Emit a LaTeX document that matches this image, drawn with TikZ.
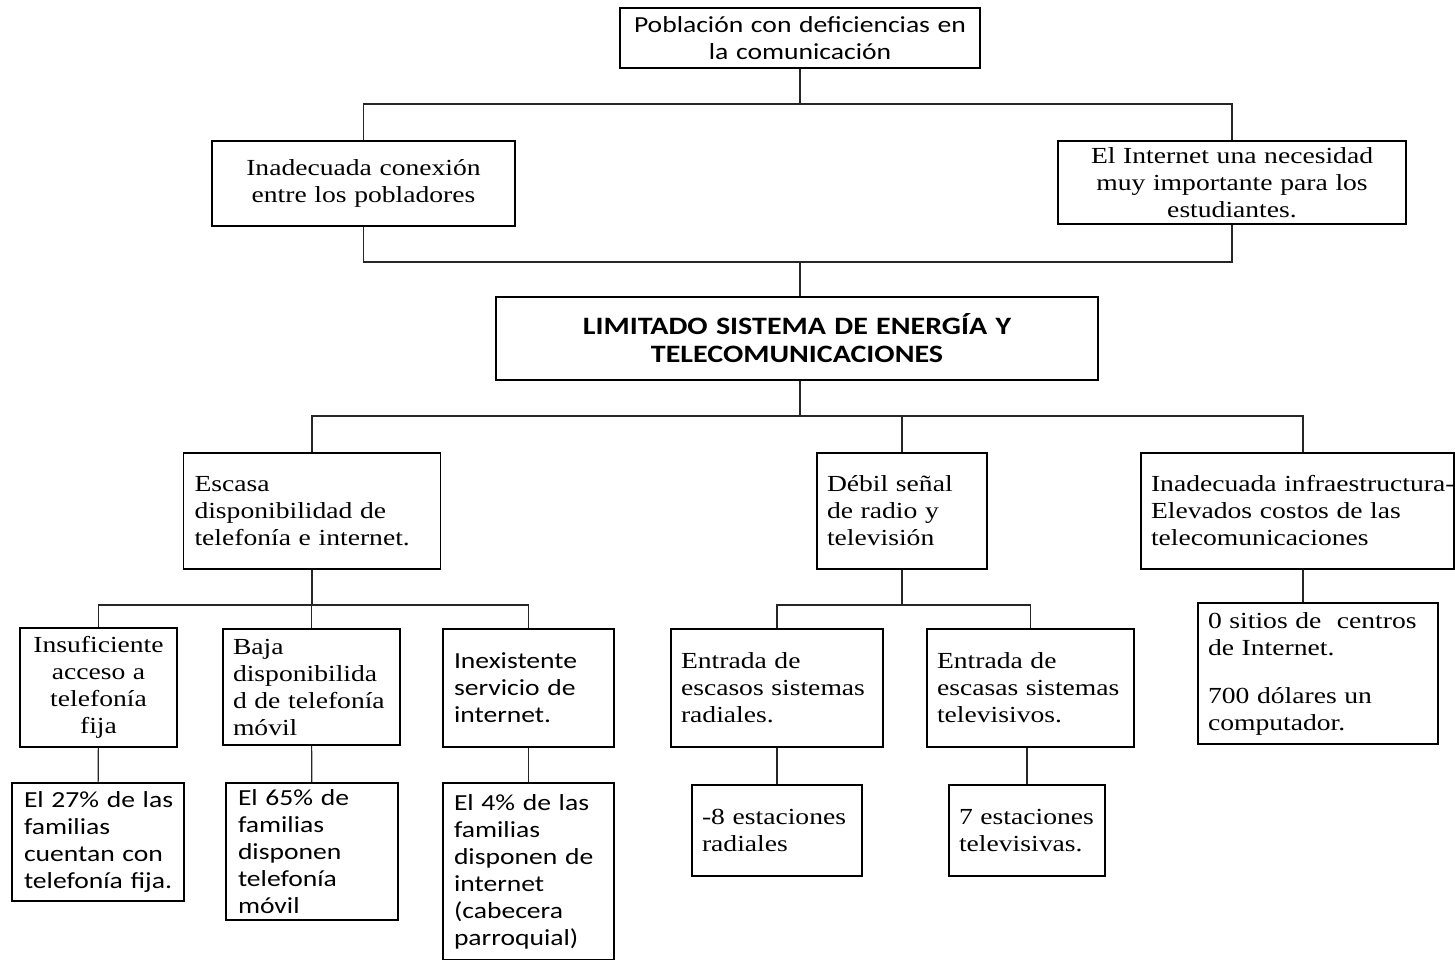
\documentclass[tikz,border=0pt]{standalone}
\usepackage{fontspec}
\setmainfont{Liberation Serif}[FakeStretch=1.2]
\newfontfamily\calibri{Carlito}[FakeStretch=1.2]
\newcommand\tam{\fontsize{23}{27}\selectfont}
\newcommand\tamg{\fontsize{25}{28}\selectfont}

\begin{document}
\begin{tikzpicture}[
x=1pt, y=-1pt,
caja/.style={
draw,
line width=1.6pt,
inner sep=0pt,
font=\tam
},
izq/.style={caja, align=left},
cen/.style={caja, align=center},
enlace/.style={draw, line width=1.1pt, black!85}
]

\useasboundingbox (0,0) rectangle (1455,960);

\node[cen, font=\tam\calibri, minimum width=360pt, minimum height=60pt, text width=340pt] (pob) at (800,38)
{Población con deficiencias en\\la comunicación};

\node[cen, minimum width=303pt, minimum height=85pt, text width=283pt] (con) at (363.5,183.5)
{Inadecuada conexión\\entre los pobladores};

\node[cen, minimum width=348pt, minimum height=83pt, text width=328pt] (net) at (1232,182.5)
{El Internet una necesidad\\muy importante para los\\estudiantes.};

\node[cen, font=\tamg\calibri\bfseries, minimum width=602pt, minimum height=83pt, text width=580pt] (lim) at (797,338.5)
{LIMITADO SISTEMA DE ENERGÍA Y\\TELECOMUNICACIONES};

\node[izq, minimum width=257pt, minimum height=116pt, text width=235pt] (esc) at (312,511)
{Escasa\\\mbox{disponibilidad de}\\\mbox{telefonía e internet.}};

\node[izq, minimum width=170pt, minimum height=116pt, text width=150pt] (deb) at (902,511)
{\mbox{Débil señal}\\\mbox{de radio y}\\televisión};

\node[izq, minimum width=313pt, minimum height=116pt, text width=293pt] (inf) at (1297.5,511)
{\mbox{Inadecuada infraestructura-}\\\mbox{Elevados costos de las}\\telecomunicaciones};

\node[cen, minimum width=157pt, minimum height=119pt, text width=140pt] (ins) at (98.5,687.5)
{Insuficiente\\acceso a\\telefonía\\fija};

\node[izq, minimum width=177pt, minimum height=116pt, text width=157pt] (baj) at (311.5,687)
{Baja\\disponibilida\\\mbox{d de telefonía}\\móvil};

\node[izq, font=\tam\calibri, minimum width=171pt, minimum height=118pt, text width=149pt] (inx) at (528.5,688)
{Inexistente\\\mbox{servicio de}\\internet.};

\node[izq, minimum width=212pt, minimum height=118pt, text width=192pt] (rad) at (777,688)
{\mbox{Entrada de}\\\mbox{escasos sistemas}\\radiales.};

\node[izq, minimum width=207pt, minimum height=118pt, text width=187pt] (tel) at (1030.5,688)
{\mbox{Entrada de}\\\mbox{escasas sistemas}\\televisivos.};

\node[izq, minimum width=240pt, minimum height=141pt, text width=220pt] (sit) at (1318,673.5)
{\mbox{0 sitios de\ \ centros}\\\mbox{de Internet.}\\[21pt]\mbox{700 dólares un}\\computador.};

\node[izq, font=\tam\calibri, minimum width=172pt, minimum height=118pt, text width=148pt] (f27) at (98,842)
{\mbox{El 27\% de las}\\familias\\\mbox{cuentan con}\\\mbox{telefonía fija.}};

\node[izq, font=\tam\calibri, minimum width=172pt, minimum height=137pt, text width=148pt] (f65) at (312,851.5)
{\mbox{El 65\% de}\\familias\\disponen\\telefonía\\móvil};

\node[izq, font=\tam\calibri, minimum width=171pt, minimum height=177pt, text width=149pt] (f4) at (528.5,871.5)
{\mbox{El 4\% de las}\\familias\\\mbox{disponen de}\\internet\\(cabecera\\parroquial)};

\node[izq, minimum width=170pt, minimum height=91pt, text width=150pt] (est8) at (777,830.5)
{\mbox{-8 estaciones}\\radiales};

\node[izq, minimum width=156pt, minimum height=91pt, text width=136pt] (est7) at (1027,830.5)
{\mbox{7 estaciones}\\televisivas.};

\coordinate (j1) at (800,104);
\coordinate (j2) at (800,262);
\coordinate (j3) at (800,416);
\coordinate (j4) at (312,605);
\coordinate (j5) at (902,605);
\coordinate (j6) at (1303,416);

\draw[enlace] (pob) -- (j1);
\draw[enlace] (con) |- (j1) -| (net);
\draw[enlace] (con) |- (j2) -| (net);
\draw[enlace] (j2) -- (j2 |- lim.north);
\draw[enlace] (j3 |- lim.south) -- (j3);
\draw[enlace] (esc) |- (j3) -- (j6) -- (j6 |- inf.north);
\draw[enlace] (deb) -- (deb |- j3);
\draw[enlace] (esc) -- (j4);
\draw[enlace] (ins) |- (j4) -| (inx);
\draw[enlace] (baj) -- (baj |- j4);
\draw[enlace] (deb) -- (j5);
\draw[enlace] (rad) |- (j5) -| (tel);
\draw[enlace] (j6 |- inf.south) -- (j6 |- sit.north);
\draw[enlace] (ins) -- (f27);
\draw[enlace] (baj) -- (f65);
\draw[enlace] (inx) -- (f4);
\draw[enlace] (rad) -- (est8);
\draw[enlace] (tel.south -| est7) -- (est7);

\end{tikzpicture}
\end{document}
